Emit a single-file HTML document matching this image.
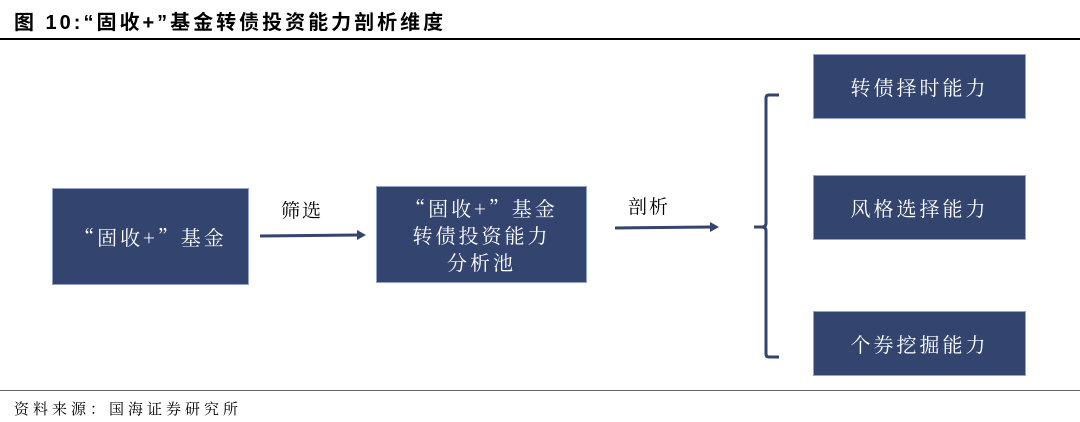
<!DOCTYPE html>
<html><head><meta charset="utf-8"><style>
body{margin:0;width:1080px;height:422px;background:#fff;position:relative;overflow:hidden;font-family:"Noto Serif CJK SC","Liberation Serif",serif}
.t{position:absolute;left:14px;top:6px;font:bold 20px "Liberation Sans","Noto Sans CJK SC",sans-serif;color:#000;letter-spacing:3px;white-space:nowrap}
.b{position:absolute;background:#33446f;border:1px solid #8fa3cc;box-sizing:border-box;color:#fff;display:flex;align-items:center;justify-content:center;text-align:center;font-size:20px;line-height:27px;letter-spacing:3px}
.l{position:absolute;font-size:19px;color:#000;letter-spacing:2px}
</style></head><body>
<div class="t">图 10:“固收+”基金转债投资能力剖析维度</div>
<div style="position:absolute;left:0;top:38px;width:1080px;height:2px;background:#000"></div>
<div class="b" style="left:52px;top:188px;width:197px;height:97px">“固收+”基金</div>
<div class="b" style="left:376px;top:186px;width:211px;height:97px">“固收+”基金<br>转债投资能力<br>分析池</div>
<div class="b" style="left:813px;top:54px;width:213px;height:65px">转债择时能力</div>
<div class="b" style="left:813px;top:175px;width:213px;height:65px">风格选择能力</div>
<div class="b" style="left:813px;top:311px;width:213px;height:65px">个券挖掘能力</div>
<div class="l" style="left:281px;top:196px">筛选</div>
<div class="l" style="left:628px;top:192px">剖析</div>
<svg width="1080" height="422" style="position:absolute;left:0;top:0">
<g stroke="#33446f" stroke-width="3" fill="none">
<line x1="260" y1="236" x2="358" y2="235"/>
<line x1="615" y1="228" x2="711" y2="227"/>
<path d="M779,95 H769 Q766,95 766,98 V223 Q766,227 762,227 H754 M762,227 Q766,227 766,231 V354 Q766,357 769,357 H779"/>
</g>
<polygon points="366,235 357,230 357,240" fill="#33446f"/>
<polygon points="719,227 710,222 710,232" fill="#33446f"/>
</svg>
<div style="position:absolute;left:0;top:390px;width:1080px;height:1px;background:#666"></div>
<div style="position:absolute;left:14px;top:398px;font-size:15px;color:#000;letter-spacing:4px">资料来源：国海证券研究所</div>
</body></html>
